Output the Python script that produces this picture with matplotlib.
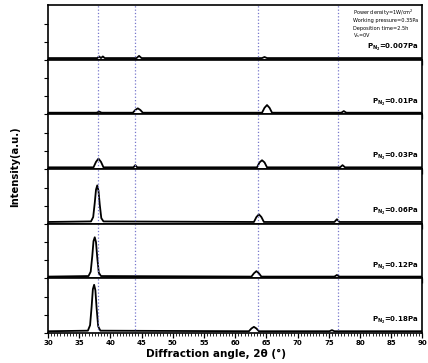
import matplotlib.pyplot as plt
from matplotlib.ticker import MultipleLocator

# pressure labels, top panel to bottom panel
pressures = ['0.007', '0.01', '0.03', '0.06', '0.12', '0.18']

x1 = [30, 37.9, 38.2, 38.5, 38.8, 39.1, 39.4, 44.2, 44.6, 45.0, 64.3, 64.7, 65.1, 90]
y1 = [0.03, 0.03, 0.06, 0.03, 0.06, 0.03, 0.03, 0.03, 0.07, 0.03, 0.03, 0.05, 0.03, 0.03]

x2 = [30, 37.8, 38.2, 38.6, 43.6, 44.0, 44.4, 44.8, 45.2, 64.3, 64.7, 65.1, 65.5, 65.9,
      77.0, 77.4, 77.8, 90]
y2 = [0.03, 0.03, 0.05, 0.03, 0.03, 0.08, 0.11, 0.08, 0.03, 0.03, 0.12, 0.17, 0.12, 0.03,
      0.03, 0.06, 0.03, 0.03]

x3 = [30, 37.3, 37.7, 38.1, 38.5, 38.9, 43.7, 44.0, 44.3, 63.5, 63.9, 64.3, 64.7, 65.1,
      76.8, 77.2, 77.6, 90]
y3 = [0.03, 0.03, 0.13, 0.19, 0.13, 0.03, 0.03, 0.07, 0.03, 0.03, 0.12, 0.16, 0.12, 0.03,
      0.03, 0.07, 0.03, 0.03]

x4 = [30, 36.9, 37.25, 37.5, 37.7, 37.9, 38.1, 38.3, 38.55, 38.9, 63.0, 63.4, 63.8, 64.2,
      64.6, 75.9, 76.3, 76.7, 90]
y4 = [0.03, 0.04, 0.12, 0.38, 0.62, 0.7, 0.6, 0.35, 0.1, 0.04, 0.03, 0.12, 0.17, 0.12,
      0.03, 0.03, 0.08, 0.03, 0.03]

x5 = [30, 36.5, 36.85, 37.1, 37.3, 37.5, 37.7, 37.9, 38.15, 38.5, 62.6, 63.0, 63.4, 63.8,
      64.2, 75.9, 76.3, 76.7, 90]
y5 = [0.03, 0.04, 0.12, 0.4, 0.68, 0.75, 0.66, 0.38, 0.1, 0.04, 0.03, 0.09, 0.13, 0.09,
      0.03, 0.03, 0.06, 0.03, 0.03]

x6 = [30, 36.4, 36.75, 37.0, 37.2, 37.4, 37.6, 37.8, 38.05, 38.4, 62.2, 62.6, 63.0, 63.4,
      63.8, 75.1, 75.5, 75.9, 90]
y6 = [0.03, 0.04, 0.14, 0.48, 0.8, 0.88, 0.78, 0.45, 0.12, 0.04, 0.03, 0.08, 0.11, 0.08,
      0.03, 0.03, 0.05, 0.03, 0.03]

curves = [(x1, y1), (x2, y2), (x3, y3), (x4, y4), (x5, y5), (x6, y6)]

# reference peak positions (dotted lines)
ref_lines = [38.0, 44.0, 63.7, 76.4]

fig, axes = plt.subplots(6, 1, sharex=True, figsize=(4.28, 3.63), dpi=100)
fig.subplots_adjust(left=0.112, right=0.987, top=0.986, bottom=0.083, hspace=0)

for idx, ax in enumerate(axes):
    xs, ys = curves[idx]
    ax.plot(xs, ys, color='black', linewidth=1.3)
    for r in ref_lines:
        ax.axvline(r, color='#7777cc', linestyle=':', linewidth=0.9)
    ax.set_xlim(30, 90)
    ax.set_ylim(0, 1)
    ax.set_yticks([0, 0.33, 0.66])
    ax.set_yticklabels([])
    ax.tick_params(axis='y', direction='out', length=3, width=0.8, right=False)
    ax.xaxis.set_major_locator(MultipleLocator(5))
    ax.xaxis.set_minor_locator(MultipleLocator(0.5))
    ax.tick_params(axis='x', which='major', direction='out', length=3.5, width=0.9)
    ax.tick_params(axis='x', which='minor', direction='out', length=2, width=0.6)
    for s in ax.spines.values():
        s.set_linewidth(1.2)
    ax.text(0.99, 0.22, r'P$_{\mathregular{N_2}}$=' + pressures[idx] + 'Pa',
            transform=ax.transAxes, ha='right', va='center',
            fontsize=5, fontweight='bold')

axes[0].text(0.815, 0.86, 'Power density=1W/cm$^2$', transform=axes[0].transAxes,
             fontsize=3.6, va='center')
axes[0].text(0.815, 0.72, 'Working pressure=0.35Pa', transform=axes[0].transAxes,
             fontsize=3.6, va='center')
axes[0].text(0.815, 0.58, 'Deposition time=2.5h', transform=axes[0].transAxes,
             fontsize=3.6, va='center')
axes[0].text(0.815, 0.44, r'V$_\mathregular{s}$=0V', transform=axes[0].transAxes,
             fontsize=3.6, va='center')

for lab in axes[-1].get_xticklabels():
    lab.set_fontsize(5)
    lab.set_fontweight('bold')
axes[-1].tick_params(axis='x', pad=1.5)
axes[-1].set_xlabel(u'Diffraction angle, 2\u03b8 (\u00b0)', fontsize=7.5,
                    fontweight='bold', labelpad=2, x=0.45)
fig.text(0.035, 0.54, 'Intensity(a.u.)', rotation=90, ha='center', va='center',
         fontsize=7.2, fontweight='bold')

fig.savefig('out.png', dpi=100)
